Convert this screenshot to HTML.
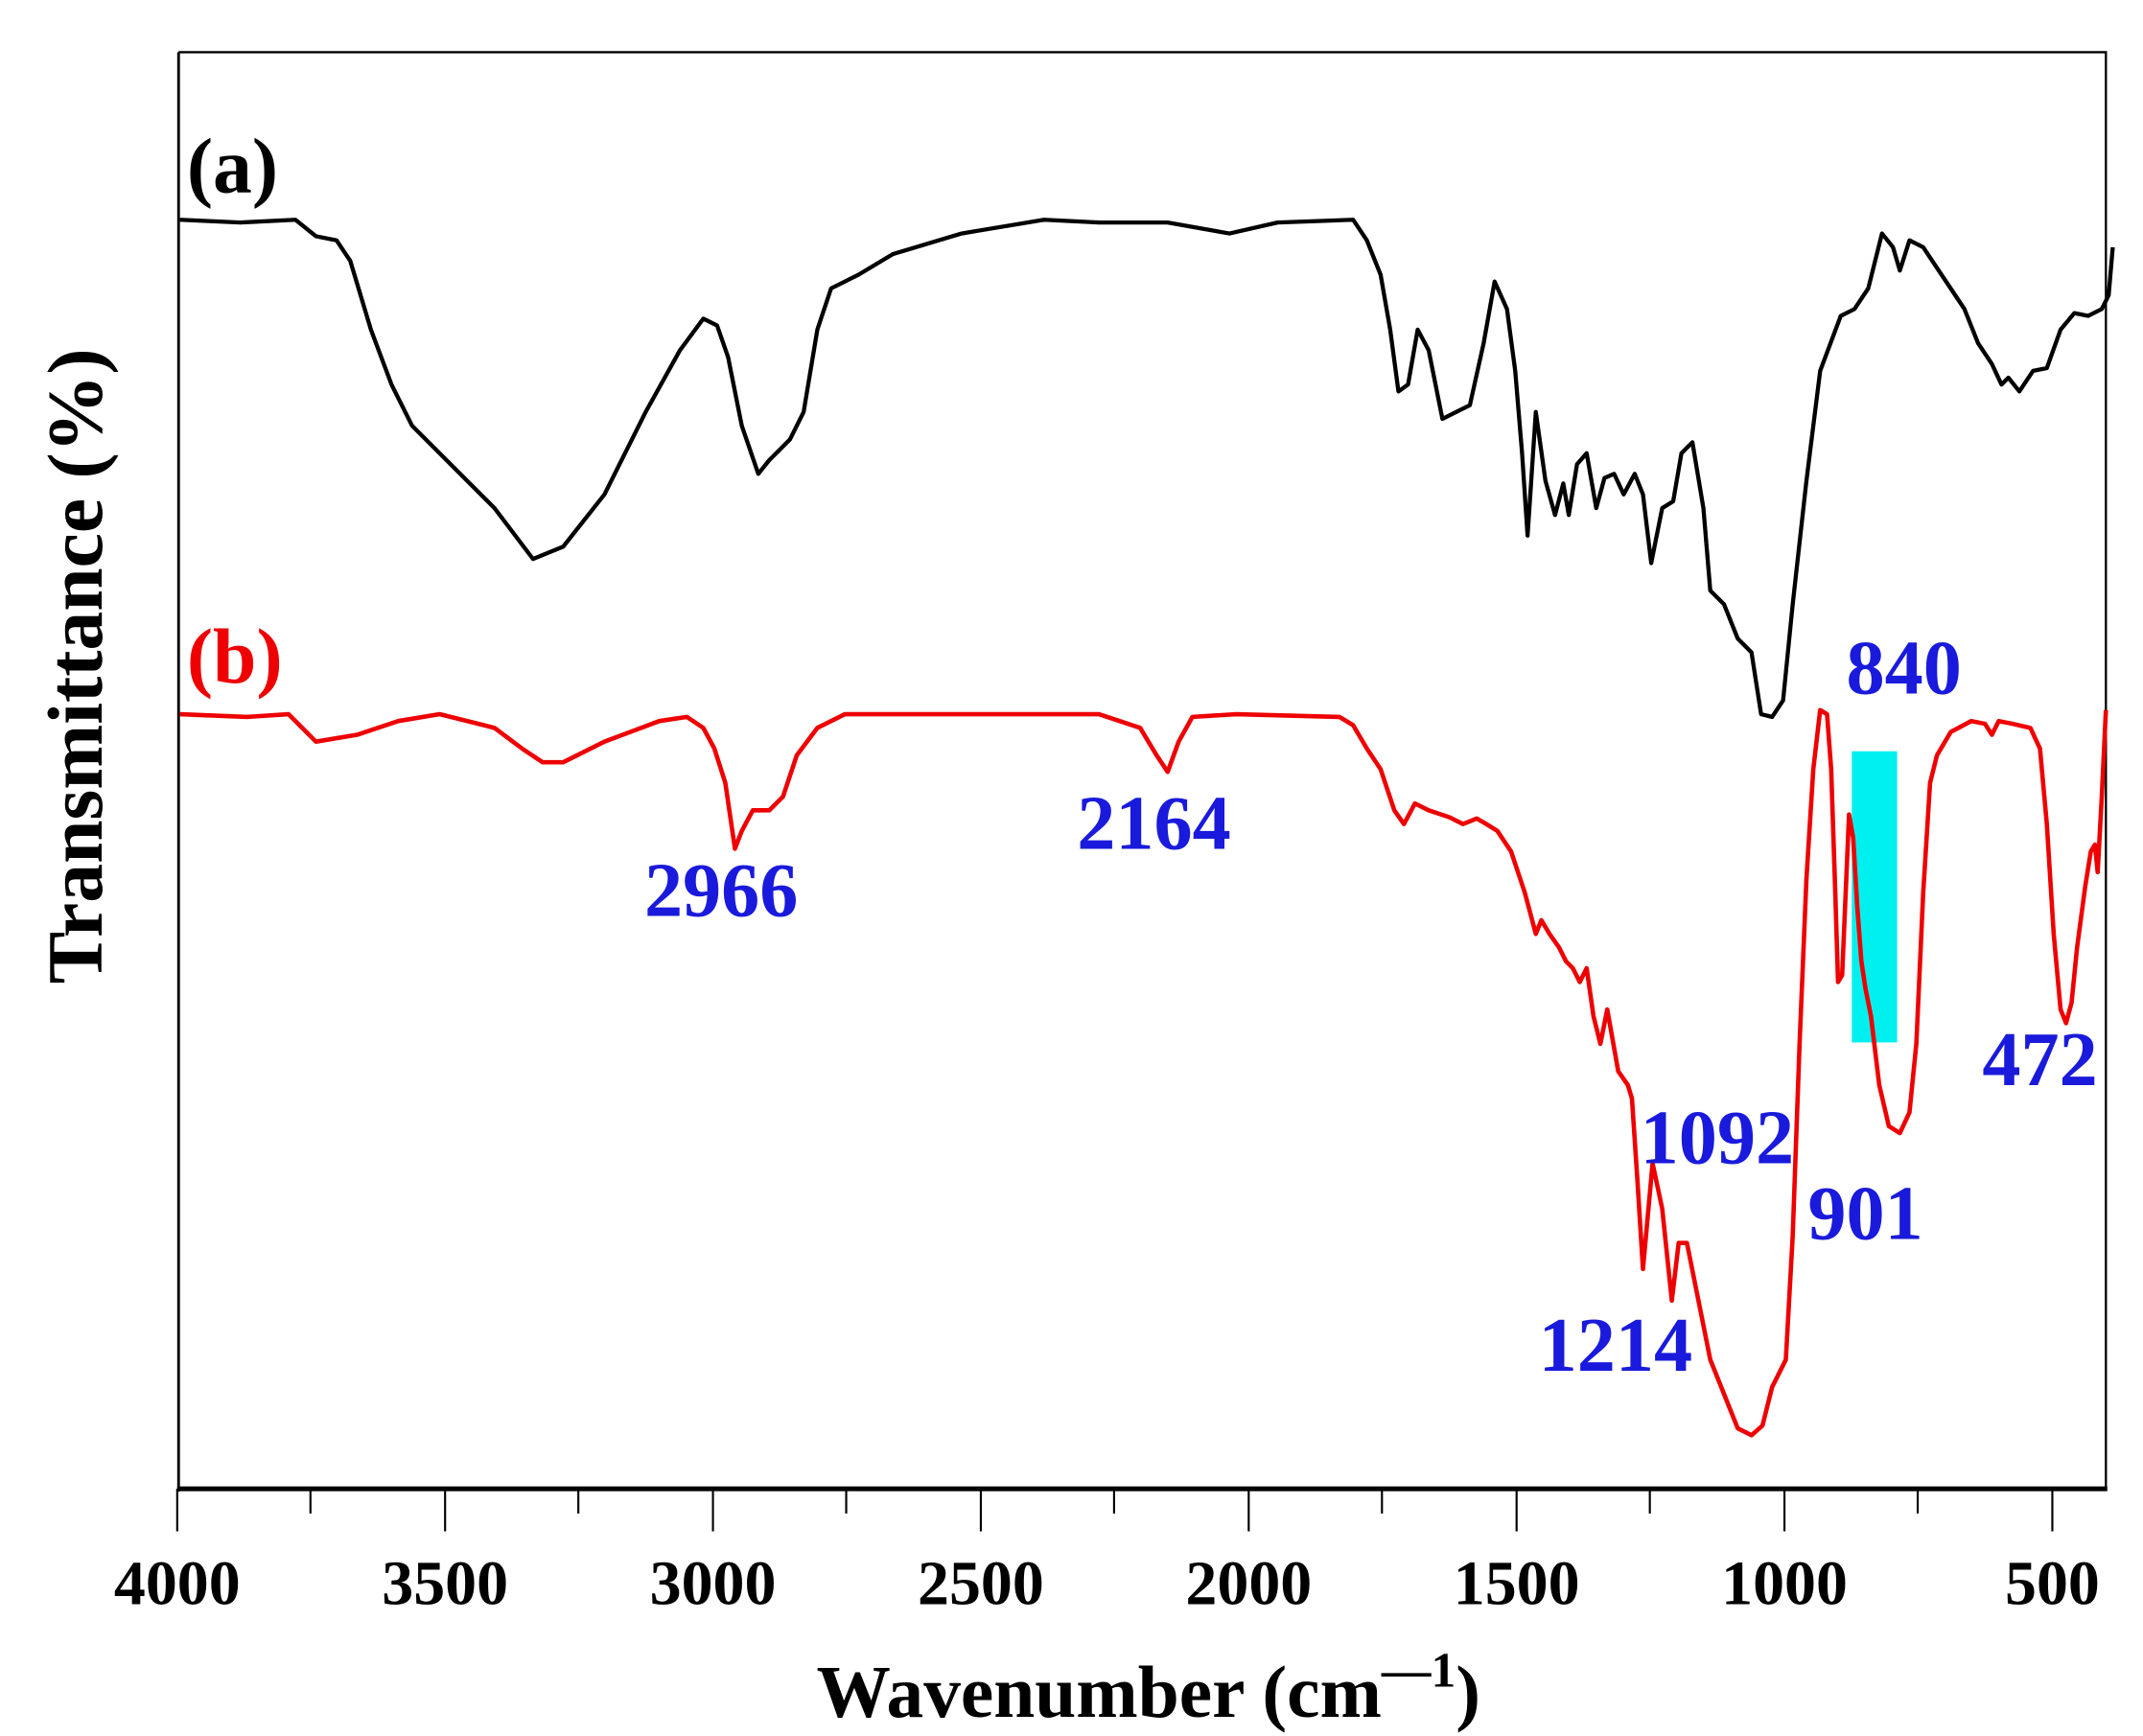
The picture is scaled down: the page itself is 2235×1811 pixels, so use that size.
<!DOCTYPE html>
<html><head><meta charset="utf-8"><style>
html,body{margin:0;padding:0;background:#fff;}
svg{display:block;}
text{font-family:"Liberation Serif",serif;font-weight:bold;}
</style></head><body>
<svg width="2235" height="1811" viewBox="0 0 1560 1264" preserveAspectRatio="none" xmlns="http://www.w3.org/2000/svg">
<rect x="0" y="0" width="1560" height="1264" fill="#fff"/>
<rect x="1348" y="547" width="33" height="212" fill="#00f0f0"/>
<path d="M130,38 L1533,38 L1533,1084" fill="none" stroke="#000" stroke-width="1.6"/>
<line x1="130" y1="38" x2="130" y2="1086" stroke="#000" stroke-width="2"/>
<line x1="129" y1="1084" x2="1534" y2="1084" stroke="#000" stroke-width="3.5"/>
<g stroke="#000" stroke-width="1.5">
<line x1="129" y1="1084" x2="129" y2="1115"/><line x1="324" y1="1084" x2="324" y2="1115"/><line x1="519" y1="1084" x2="519" y2="1115"/><line x1="714" y1="1084" x2="714" y2="1115"/><line x1="909" y1="1084" x2="909" y2="1115"/><line x1="1104" y1="1084" x2="1104" y2="1115"/><line x1="1299" y1="1084" x2="1299" y2="1115"/><line x1="1494" y1="1084" x2="1494" y2="1115"/>
<line x1="226" y1="1084" x2="226" y2="1102"/><line x1="421" y1="1084" x2="421" y2="1102"/><line x1="616" y1="1084" x2="616" y2="1102"/><line x1="811" y1="1084" x2="811" y2="1102"/><line x1="1006" y1="1084" x2="1006" y2="1102"/><line x1="1201" y1="1084" x2="1201" y2="1102"/><line x1="1396" y1="1084" x2="1396" y2="1102"/>
</g>
<g font-size="46" text-anchor="middle" fill="#000">
<text x="129" y="1168">4000</text><text x="324" y="1168">3500</text><text x="519" y="1168">3000</text><text x="714" y="1168">2500</text><text x="909" y="1168">2000</text><text x="1104" y="1168">1500</text><text x="1299" y="1168">1000</text><text x="1494" y="1168">500</text>
</g>
<text x="836" y="1250" font-size="54" text-anchor="middle">Wavenumber (cm<tspan dy="-22" font-size="36">—1</tspan><tspan dy="22">)</tspan></text>
<text transform="translate(74,485) rotate(-90)" font-size="57" text-anchor="middle">Transmittance (%)</text>
<text x="136" y="140" font-size="57">(a)</text>
<text x="136" y="497" font-size="57" fill="#e00">(b)</text>
<polyline fill="none" stroke="#000" stroke-width="3" stroke-linejoin="round" points="131,160 175,162 215,160 230,172 245,175 255,190 270,240 285,280 300,310 330,340 360,370 388,407 410,398 440,360 470,300 495,255 512,232 522,237 530,260 540,310 552,345 560,335 575,320 585,300 595,240 605,210 625,200 650,185 700,170 760,160 800,162 850,162 895,170 930,162 985,160 995,175 1005,200 1012,240 1018,285 1025,280 1032,240 1040,255 1050,305 1060,300 1070,295 1080,250 1088,205 1097,225 1103,270 1108,330 1112,390 1118,300 1125,350 1132,375 1138,352 1142,375 1148,338 1155,330 1162,370 1168,348 1175,345 1182,360 1190,345 1196,360 1202,410 1210,370 1218,365 1224,330 1232,322 1240,370 1245,430 1255,440 1265,465 1275,475 1282,520 1290,522 1298,510 1305,440 1315,350 1325,270 1340,230 1350,225 1360,210 1370,170 1378,180 1383,197 1390,175 1400,180 1410,195 1420,210 1430,225 1440,250 1450,265 1457,280 1462,275 1470,285 1480,270 1490,268 1500,240 1510,228 1520,230 1530,225 1535,215 1538,180"/>
<polyline fill="none" stroke="#e00" stroke-width="3.2" stroke-linejoin="round" points="131,520 180,522 210,520 230,540 260,535 290,525 320,520 360,530 380,545 395,555 410,555 440,540 480,525 500,522 512,530 520,545 528,570 535,618 540,605 548,590 560,590 570,580 580,550 595,530 615,520 760,520 800,520 830,530 842,550 850,562 858,540 868,522 900,520 975,522 985,528 995,545 1005,560 1015,590 1022,600 1030,585 1040,590 1055,595 1065,600 1075,596 1082,600 1090,605 1100,620 1110,650 1118,680 1122,670 1128,680 1135,690 1140,700 1145,705 1150,715 1155,705 1160,740 1165,760 1170,735 1178,780 1185,790 1188,800 1192,860 1196,924 1203,847 1210,880 1217,947 1222,905 1228,905 1235,940 1245,990 1255,1015 1265,1040 1275,1045 1283,1038 1290,1010 1300,990 1305,900 1310,760 1315,640 1320,560 1325,517 1330,520 1333,560 1336,650 1338,715 1341,710 1344,640 1346,593 1349,610 1352,660 1355,700 1358,720 1362,740 1368,790 1375,820 1383,825 1390,810 1395,760 1400,650 1405,570 1410,550 1420,533 1435,525 1445,527 1450,535 1455,525 1465,527 1478,530 1485,545 1490,600 1495,680 1500,735 1504,745 1508,730 1512,690 1518,645 1522,620 1525,615 1527,635 1530,580 1533,517"/>
<g font-size="56" fill="#1a1adc" text-anchor="middle">
<text x="525" y="667">2966</text>
<text x="840" y="618">2164</text>
<text x="1386" y="505">840</text>
<text x="1485" y="790">472</text>
<text x="1358" y="902">901</text>
<text x="1250" y="847">1092</text>
<text x="1176" y="998">1214</text>
</g>
</svg>
</body></html>
